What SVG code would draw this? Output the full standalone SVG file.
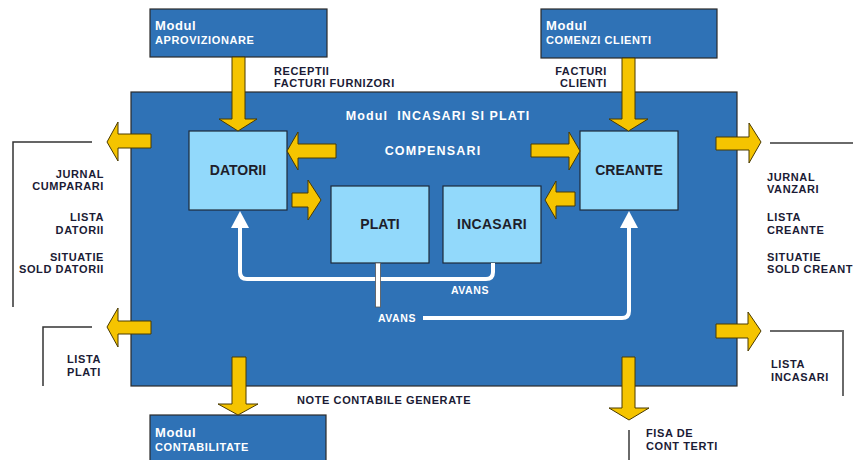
<svg xmlns="http://www.w3.org/2000/svg" width="853" height="460" viewBox="0 0 853 460">
<defs>
<style>
.blue{fill:#2F72B6;stroke:#2b2b2b;stroke-width:1.2}
.box{fill:#92D9FB;stroke:#1e2a3a;stroke-width:1.2}
.ya{fill:#F5C400;stroke:#4a3a00;stroke-width:1}
.wl{fill:none;stroke:#ffffff;stroke-width:4;stroke-linejoin:round}
.wh{fill:#ffffff}
.br{fill:none;stroke:#333;stroke-width:1.5}
.brg{fill:none;stroke:#6a6a6a;stroke-width:2}
text{font-family:"Liberation Sans",Arial,sans-serif;font-weight:bold}
.lbl{font-size:11px;letter-spacing:0.6px;fill:#1b1b35}
.wt{fill:#ffffff;font-size:11px;letter-spacing:0.6px}
.mod{fill:#ffffff;font-size:13px;letter-spacing:0.6px}
.modn{fill:#ffffff;font-size:11px;letter-spacing:0.6px}
.bt{font-size:14px;fill:#1e1e2a;text-anchor:middle}
</style>
</defs>

<g id="main">
<rect class="blue" x="131" y="92" width="606" height="294"/>
<text class="wt" x="438" y="120" text-anchor="middle" xml:space="preserve" style="font-size:12.5px;letter-spacing:1.1px;white-space:pre">Modul  INCASARI SI PLATI</text>
<text class="wt" x="433" y="155" text-anchor="middle" style="font-size:12.5px;letter-spacing:1.2px">COMPENSARI</text>
</g>

<g id="aprovizionare">
<rect class="blue" x="150" y="9" width="177" height="48"/>
<text class="mod" x="155" y="30">Modul</text>
<text class="modn" x="155" y="44">APROVIZIONARE</text>
</g>

<g id="comenzi">
<rect class="blue" x="541" y="9" width="176" height="49"/>
<text class="mod" x="546" y="30">Modul</text>
<text class="modn" x="546" y="44">COMENZI CLIENTI</text>
</g>

<g id="contabilitate">
<rect class="blue" x="150" y="415" width="176" height="52"/>
<text class="mod" x="155" y="437">Modul</text>
<text class="modn" x="155" y="451">CONTABILITATE</text>
</g>

<g id="datorii">
<rect class="box" x="189" y="131" width="98" height="79"/>
<text class="bt" x="238" y="175">DATORII</text>
</g>

<g id="creante">
<rect class="box" x="580" y="131" width="98" height="79"/>
<text class="bt" x="629" y="175">CREANTE</text>
</g>

<g id="plati">
<rect class="box" x="331" y="186" width="98" height="77"/>
<text class="bt" x="380" y="229">PLATI</text>
</g>

<g id="incasari">
<rect class="box" x="443" y="186" width="98" height="77"/>
<text class="bt" x="492" y="229" style="letter-spacing:0.3px">INCASARI</text>
</g>

<g id="connectors">
<polygon class="ya" points="232,57 245,57 245,119 257,119 238,131 219,119 232,119"/>
<polygon class="ya" points="622,58 635,58 635,119 648,119 628.5,131 609,119 622,119"/>
<polygon class="ya" points="336,144 298,144 298,132 287,151 298,170 298,158 336,158"/>
<polygon class="ya" points="292,193 308,193 308,180 321,200 308,220 308,207 292,207"/>
<polygon class="ya" points="531,144 569,144 569,132 580,151 569,170 569,157 531,157"/>
<polygon class="ya" points="575,192 556,192 556,181 545,200 556,219 556,206 575,206"/>
<polygon class="ya" points="151,134 118,134 118,122 107,142 118,161 118,148 151,148"/>
<polygon class="ya" points="151,321 118,321 118,308 107,327 118,347 118,334 151,334"/>
<polygon class="ya" points="716,137 749,137 749,123 761,142 749,163 749,150 716,150"/>
<polygon class="ya" points="716,324 748,324 748,312 761,331 748,351 748,338 716,338"/>
<polygon class="ya" points="232,357 246,357 246,404 258,404 238,415 218,404 232,404"/>
<polygon class="ya" points="622,357 635,357 635,408 649,408 629,420 609,408 622,408"/>

<path class="wl" d="M493,263 V272 Q493,279 486,279 H247 Q240,279 240,272 V226"/>
<polygon class="wh" points="231,228 249,228 240,211"/>
<path class="wl" d="M423,318 H622 Q629,318 629,311 V226"/>
<polygon class="wh" points="620,228 638,228 629,211"/>
<rect x="375.5" y="263" width="5" height="44" fill="#ffffff" stroke="#555" stroke-width="0.8"/>
<text class="wt" x="470" y="294" text-anchor="middle" style="font-size:10.5px">AVANS</text>
<text class="wt" x="397" y="322" text-anchor="middle" style="font-size:10.5px">AVANS</text>

<polyline class="br" points="92,142 13,142 13,307"/>
<polyline class="br" points="92,327 43,327 43,386"/>
<polyline class="brg" points="770,143 853,143"/>
<polyline class="brg" points="770,331 843,331 843,396"/>
<polyline class="brg" points="629,430 629,460"/>
</g>

<g id="labels">
<text class="lbl" x="274" y="75">RECEPTII</text>
<text class="lbl" x="274" y="87">FACTURI FURNIZORI</text>
<text class="lbl" x="607" y="75" text-anchor="end">FACTURI</text>
<text class="lbl" x="607" y="87" text-anchor="end">CLIENTI</text>

<text class="lbl" x="104" y="178" text-anchor="end">JURNAL</text>
<text class="lbl" x="104" y="190" text-anchor="end">CUMPARARI</text>
<text class="lbl" x="104" y="221" text-anchor="end">LISTA</text>
<text class="lbl" x="104" y="234" text-anchor="end">DATORII</text>
<text class="lbl" x="104" y="261" text-anchor="end">SITUATIE</text>
<text class="lbl" x="104" y="273" text-anchor="end">SOLD DATORII</text>
<text class="lbl" x="67" y="363">LISTA</text>
<text class="lbl" x="67" y="376">PLATI</text>

<text class="lbl" x="767" y="181">JURNAL</text>
<text class="lbl" x="767" y="193">VANZARI</text>
<text class="lbl" x="767" y="221">LISTA</text>
<text class="lbl" x="767" y="234">CREANTE</text>
<text class="lbl" x="767" y="261">SITUATIE</text>
<text class="lbl" x="767" y="273">SOLD CREANT</text>
<text class="lbl" x="771" y="368">LISTA</text>
<text class="lbl" x="771" y="381">INCASARI</text>

<text class="lbl" x="297" y="404">NOTE CONTABILE GENERATE</text>
<text class="lbl" x="646" y="437">FISA DE</text>
<text class="lbl" x="646" y="450">CONT TERTI</text>
</g>
</svg>
